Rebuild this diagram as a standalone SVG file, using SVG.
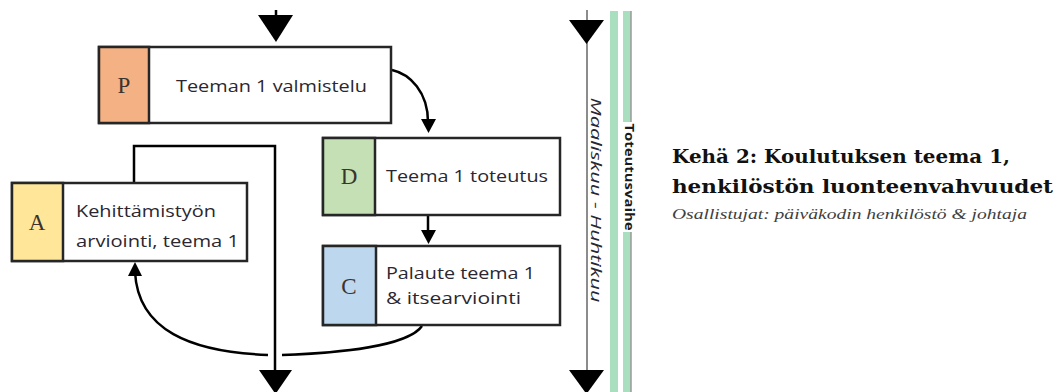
<svg xmlns="http://www.w3.org/2000/svg" width="1062" height="392" viewBox="0 0 1062 392">
<style>
.box{fill:#fff;stroke:#262626;stroke-width:2.5}
.cell{stroke:#262626;stroke-width:2.5}
.ln{fill:none;stroke:#000;stroke-width:2.5}
.t{font-family:"Open Sans","Liberation Sans",sans-serif;font-size:16px;fill:#2b2730}
.L{font-family:"Liberation Serif","DejaVu Serif",serif;font-size:23px;fill:#3a3430;text-anchor:middle}
.head{fill:#000}
</style>
<rect width="1062" height="392" fill="#fff"/>

<g id="connectors">
<line x1="276" y1="10" x2="276" y2="16" class="ln"/>
<path class="head" d="M258,15 L293,15 L276,42 Z"/>
<path class="ln" d="M134,183 L134,146 L275,146 L275,372"/>
<path class="head" d="M259,370 L292,370 L275.5,394 Z"/>
<path class="ln" d="M392,70 C410,74 428,92 428,122"/>
<path class="head" d="M421,119 L436,119 L428.5,133 Z"/>
<line x1="428" y1="216" x2="428" y2="232" class="ln"/>
<path class="head" d="M421,230 L436,230 L428.5,244 Z"/>
<path class="ln" d="M422,326 C408,346 340,353 282,355"/>
<path class="ln" d="M268,355 C190,352 138,330 135,272"/>
<path class="head" d="M128,276 L142,276 L135,262 Z"/>
<line x1="587" y1="10" x2="587" y2="372" stroke="#8c8c8c" stroke-width="2"/>
<path class="head" d="M569,20 L604,20 L586.5,44 Z"/>
<path class="head" d="M569,370 L604,370 L586.5,394 Z"/>
<rect x="610" y="11" width="8" height="381" fill="#a9dfbf"/>
<rect x="623" y="11" width="8" height="381" fill="#a9dfbf"/>
<line x1="631" y1="11" x2="631" y2="392" stroke="#9a9a9a" stroke-width="1.5"/>
<rect x="620" y="122" width="18" height="110" fill="#fff"/>
<text transform="translate(591,200) rotate(90)" text-anchor="middle" font-family="'Open Sans','Liberation Sans',sans-serif" font-style="italic" font-size="15" fill="#2b2730" textLength="205" lengthAdjust="spacingAndGlyphs">Maaliskuu - Huhtikuu</text>
<text transform="translate(625,177) rotate(90)" text-anchor="middle" font-family="'Open Sans','Liberation Sans',sans-serif" font-weight="bold" font-size="13" fill="#1a1a1a" textLength="107" lengthAdjust="spacingAndGlyphs">Toteutusvaihe</text>
</g>

<g id="nodeP">
<rect class="box" x="99" y="47" width="292" height="76"/>
<rect class="cell" x="99" y="47" width="50" height="76" fill="#f4b183"/>
<text class="L" x="124" y="93">P</text>
<text class="t" x="176" y="92" textLength="191" lengthAdjust="spacingAndGlyphs">Teeman 1 valmistelu</text>
</g>

<g id="nodeD">
<rect class="box" x="323" y="138" width="237" height="77"/>
<rect class="cell" x="323" y="138" width="52" height="77" fill="#c5e0b4"/>
<text class="L" x="349" y="184">D</text>
<text class="t" x="386" y="182" textLength="162" lengthAdjust="spacingAndGlyphs">Teema 1 toteutus</text>
</g>

<g id="nodeC">
<rect class="box" x="323" y="246" width="237" height="79"/>
<rect class="cell" x="323" y="246" width="53" height="79" fill="#bdd7ee"/>
<text class="L" x="349" y="294">C</text>
<text class="t" x="386" y="279" textLength="149" lengthAdjust="spacingAndGlyphs">Palaute teema 1</text>
<text class="t" x="386" y="304" textLength="135" lengthAdjust="spacingAndGlyphs">&amp; itsearviointi</text>
</g>

<g id="nodeA">
<rect class="box" x="12" y="183" width="235" height="78"/>
<rect class="cell" x="12" y="183" width="51" height="78" fill="#ffe699"/>
<text class="L" x="37" y="230">A</text>
<text class="t" x="76" y="217" textLength="140" lengthAdjust="spacingAndGlyphs">Kehittämistyön</text>
<text class="t" x="76" y="247" textLength="163" lengthAdjust="spacingAndGlyphs">arviointi, teema 1</text>
</g>

<g id="title">
<text x="672" y="163" font-family="'DejaVu Serif','Liberation Serif',serif" font-weight="bold" font-size="19" fill="#111" textLength="338" lengthAdjust="spacingAndGlyphs">Kehä 2: Koulutuksen teema 1,</text>
<text x="672" y="193" font-family="'DejaVu Serif','Liberation Serif',serif" font-weight="bold" font-size="19" fill="#111" textLength="381" lengthAdjust="spacingAndGlyphs">henkilöstön luonteenvahvuudet</text>
<text x="672" y="219" font-family="'Liberation Serif','DejaVu Serif',serif" font-style="italic" font-size="14" fill="#404040" textLength="355" lengthAdjust="spacingAndGlyphs">Osallistujat: päiväkodin henkilöstö &amp; johtaja</text>
</g>
</svg>
